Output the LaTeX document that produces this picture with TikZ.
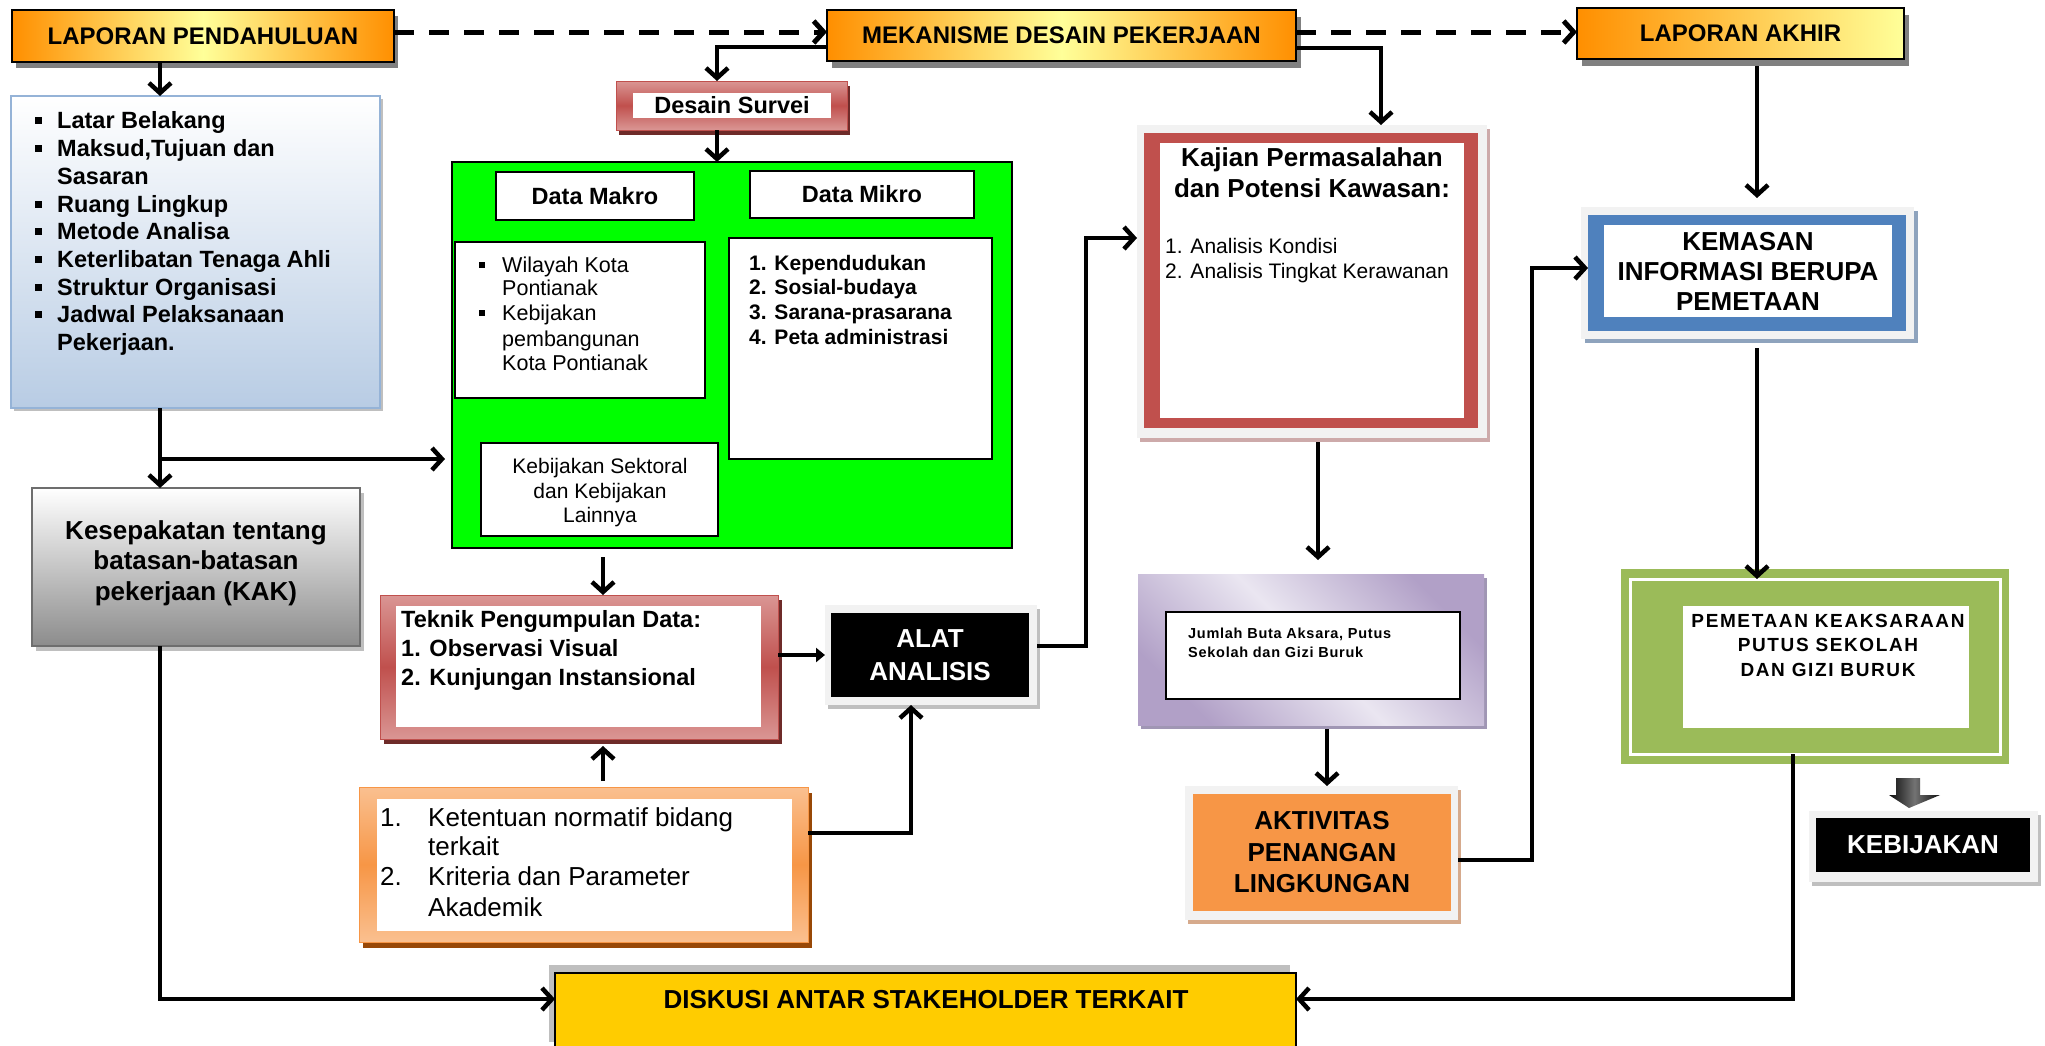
\documentclass[tikz,border=0pt]{standalone}
\usepackage{fontspec}
\setmainfont{Liberation Sans}
\usetikzlibrary{arrows.meta,shadows}

\definecolor{orangeA}{RGB}{255,143,0}
\definecolor{yellowA}{RGB}{255,255,153}
\definecolor{blueBot}{RGB}{184,204,228}
\definecolor{blueEdge}{RGB}{149,179,215}
\definecolor{redA}{RGB}{192,80,77}
\definecolor{redL}{RGB}{218,150,148}
\definecolor{redD}{RGB}{110,43,41}
\definecolor{peach}{RGB}{250,192,144}
\definecolor{orangeB}{RGB}{247,150,70}
\definecolor{brownD}{RGB}{152,72,7}
\definecolor{purpleA}{RGB}{177,160,199}
\definecolor{purpleL}{RGB}{234,230,241}
\definecolor{purpleS}{RGB}{160,150,180}
\definecolor{blueB}{RGB}{79,129,189}
\definecolor{blueS}{RGB}{142,163,189}
\definecolor{greenB}{RGB}{155,187,89}
\definecolor{frameL}{RGB}{242,242,242}
\definecolor{gold}{RGB}{255,204,0}
\definecolor{greenA}{RGB}{0,255,0}
\definecolor{grayK}{RGB}{140,140,140}
\definecolor{grayE}{RGB}{110,110,110}
\definecolor{shadeG}{RGB}{191,191,191}
\definecolor{kajS}{RGB}{205,170,170}
\definecolor{tanS}{RGB}{214,170,140}

\newcommand\fsz[2]{\fontsize{#1}{#2}\selectfont}

\begin{document}
\begin{tikzpicture}[x=1pt,y=-1pt,
  span/.style n args={4}{inner sep=0pt,outer sep=0pt,
    minimum width={#3-#1},minimum height={#4-#2},
    at={({(#1+#3)/2},{(#2+#4)/2})}},
  shadowed/.style n args={3}{drop shadow={shadow xshift=#1pt,shadow yshift=#2pt,fill=#3,opacity=1}},
  link/.style={line width=4.5pt,-{Straight Barb[length=10pt,width=22pt]}},
  dlink/.style={line width=5pt,dash pattern=on 20pt off 15pt,-{Straight Barb[length=10pt,width=22pt]}},
  wire/.style={line width=4.5pt},
  title/.style={font=\fsz{24}{28}\bfseries},
  big/.style={font=\fsz{26}{30.5}\bfseries},
  white box/.style={fill=white,draw=black,line width=2.5pt},
  line text/.style={anchor=base west,inner sep=0pt}]

\useasboundingbox (0,0) rectangle (2045,1045);
\fill[white] (0,0) rectangle (2045,1045);

% ---------- top row: report stages ----------
\node[span={12}{10}{394}{62},left color=orangeA,right color=orangeA,middle color=yellowA,
      draw=black,line width=2pt,shadowed={4}{-6}{gray},title] (lp) {LAPORAN PENDAHULUAN};
\node[span={827}{10}{1296}{61},left color=orangeA,right color=orangeA,middle color=yellowA,
      draw=black,line width=2pt,shadowed={5}{-7}{gray},title] (mek) {MEKANISME DESAIN PEKERJAAN};
\node[span={1577}{8}{1904}{59},left color=orangeA,right color=yellowA,
      draw=black,line width=2pt,shadowed={5}{-7}{gray},title] (la) {LAPORAN AKHIR};

% ---------- left column ----------
\node[span={11}{96}{380}{408},top color=white,bottom color=blueBot,draw=blueEdge,
      line width=1.5pt,shadowed={3}{-3}{shadeG}] (blue) {};
\foreach \yy/\bb/\txt [count=\i] in {120/1/Latar Belakang,148/1/{Maksud,Tujuan dan},176/0/Sasaran,
    204/1/Ruang Lingkup,231/1/Metode Analisa,259/1/Keterlibatan Tenaga Ahli,
    287/1/Struktur Organisasi,314/1/Jadwal Pelaksanaan,342/0/Pekerjaan.}{
  \node[line text,font=\fsz{23.5}{28}\bfseries] (blue\i) at (57,{\yy+8.5}) {\txt};
  \ifnum\bb=1 \fill (35,{\yy-3.5}) rectangle ++(7,7); \fi
}

\node[span={32}{488}{360}{646},top color=white,bottom color=grayK,draw=grayE,
      line width=2pt,shadowed={4}{-5}{shadeG}] (kak) {};
\node[align=center,big,inner sep=0pt] (kaktext) at (196,563)
  {Kesepakatan tentang\\batasan-batasan\\pekerjaan (KAK)};

% ---------- survey design ----------
\node[span={616}{81}{847}{130},top color=redL,bottom color=redL,middle color=redA,
      draw=redA,line width=1pt,shadowed={3}{-5}{redD}] (desain) {};
\node[span={633}{93}{831}{118},fill=white,font=\fsz{23.5}{28}\bfseries] (desaintext) {Desain Survei};

\node[span={452}{162}{1012}{548},fill=greenA,draw=black,line width=2.5pt] (green) {};
\node[span={496}{172}{694}{220},white box,font=\fsz{23.5}{28}\bfseries] (makro) {Data Makro};
\node[span={750}{171}{974}{218},white box,font=\fsz{23.5}{28}\bfseries] (mikro) {Data Mikro};
\node[span={455}{242}{705}{398},white box] (makrolist) {};
\node[span={729}{238}{992}{459},white box] (mikrolist) {};
\node[span={481}{443}{718}{536},white box] (sektoral) {};
\node[align=center,font=\fsz{21}{24.5},inner sep=0pt] (sektoraltext) at (600,493)
  {Kebijakan Sektoral\\dan Kebijakan\\Lainnya};

\foreach \yy/\bb/\txt [count=\i] in {265/1/Wilayah Kota,288/0/Pontianak,313/1/Kebijakan,
    339/0/pembangunan,363/0/Kota Pontianak}{
  \node[line text,font=\fsz{21.5}{25}] (makro\i) at (502,{\yy+7.7}) {\txt};
  \ifnum\bb=1 \fill (479,{\yy-3}) rectangle ++(6,6); \fi
}
\foreach \yy/\txt [count=\i] in {263/1. Kependudukan,287/2. Sosial-budaya,
    312/3. Sarana-prasarana,337/4. Peta administrasi}{
  \node[line text,font=\fsz{21}{25}\bfseries] (mikro\i) at (749,{\yy+7.5}) {\txt};
}

% ---------- data collection ----------
\node[span={380}{595}{778}{739},top color=redL,bottom color=redL,middle color=redA,
      draw=redA,line width=1pt,shadowed={4}{-5}{redD}] (teknik) {};
\node[span={396}{606}{761}{727},fill=white] (teknikin) {};
\foreach \yy/\txt [count=\i] in {619/Teknik Pengumpulan Data:,648/1. Observasi Visual,
    677/2. Kunjungan Instansional}{
  \node[line text,font=\fsz{23.5}{28}\bfseries] (teknik\i) at (401,{\yy+8.5}) {\txt};
}

\node[span={359}{787}{808}{942},top color=peach,bottom color=peach,middle color=orangeB,
      draw=orangeB,line width=1pt,shadowed={4}{-6}{brownD}] (norm) {};
\node[span={377}{799}{792}{931},fill=white] (normin) {};
\foreach \yy/\nn/\txt [count=\i] in {817/1./Ketentuan normatif bidang,846//terkait,
    876/2./Kriteria dan Parameter,907//Akademik}{
  \node[line text,font=\fsz{26}{30}] (normnum\i) at (380,{\yy+9.3}) {\nn};
  \node[line text,font=\fsz{26}{30}] (norm\i) at (428,{\yy+9.3}) {\txt};
}

\node[span={825}{605}{1037}{705},fill=frameL,shadowed={3}{-4}{shadeG}] (alatF) {};
\node[span={831}{613}{1029}{697},fill=black,text=white,align=center,
      font=\fsz{26}{33}\bfseries] (alat) {ALAT\\ANALISIS};

% ---------- analysis ----------
\node[span={1137}{125}{1487}{438},fill=frameL,shadowed={3}{-4}{kajS}] (kajianF) {};
\node[span={1144}{133}{1478}{428},fill=redA] (kajian) {};
\node[span={1160}{143}{1464}{418},fill=white] (kajianin) {};
\node[align=center,font=\fsz{26}{31}\bfseries,inner sep=0pt] (kajiantitle) at (1312,173)
  {Kajian Permasalahan\\dan Potensi Kawasan:};
\foreach \yy/\txt [count=\i] in {246/1. Analisis Kondisi,271/2. Analisis Tingkat Kerawanan}{
  \node[line text,font=\fsz{21}{25}] (kajian\i) at (1165,{\yy+7.5}) {\txt};
}

\node[span={1138}{574}{1484}{725},top color=purpleA,bottom color=purpleA,middle color=purpleL,
      shading angle=-45,shadowed={3}{-4}{purpleS}] (jumlahF) {};
\node[span={1166}{612}{1460}{699},white box] (jumlah) {};
\node[line text,font=\fsz{14.5}{19.5}\bfseries\addfontfeature{LetterSpace=5}] (jumlah1) at (1188,638)
  {Jumlah Buta Aksara, Putus};
\node[line text,font=\fsz{14.5}{19.5}\bfseries\addfontfeature{LetterSpace=5}] (jumlah2) at (1188,657.5)
  {Sekolah dan Gizi Buruk};

\node[span={1185}{786}{1458}{920},fill=frameL,shadowed={3}{-4}{tanS}] (aktivF) {};
\node[span={1193}{794}{1451}{911},fill=orangeB,align=center,font=\fsz{26}{31.5}\bfseries] (aktiv)
  {AKTIVITAS\\PENANGAN\\LINGKUNGAN};

% ---------- final outputs ----------
\node[span={1581}{207}{1914}{339},fill=frameL,shadowed={4}{-4}{blueS}] (kemasanF) {};
\node[span={1588}{215}{1906}{331},fill=blueB] (kemasan) {};
\node[span={1604}{225}{1892}{317},fill=white,align=center,font=\fsz{26}{30}\bfseries] (kemasanin)
  {KEMASAN\\INFORMASI BERUPA\\PEMETAAN};

\node[span={1621}{569}{2009}{764},fill=greenB] (peta) {};
\node[span={1630}{579}{2000}{754},draw=white,line width=3pt] (petaline) {};
\node[span={1683}{606}{1969}{728},fill=white] (petain) {};
\node[align=center,inner sep=0pt,font=\fsz{19}{24.5}\bfseries\addfontfeature{LetterSpace=8.5}]
  (petatext) at (1828,645) {PEMETAAN KEAKSARAAN\\PUTUS SEKOLAH\\DAN GIZI BURUK};

\shade[left color=black!95,right color=black!95,middle color=gray!90!black]
  (1896,778) -- (1920,778) -- (1920,795) -- (1940,795) -- (1909,808) -- (1889,795) -- (1896,795) -- cycle;

\node[span={1809}{811}{2038}{882},fill=frameL,shadowed={3}{-4}{shadeG}] (kebijF) {};
\node[span={1816}{818}{2030}{872},fill=black,text=white,font=\fsz{26}{30}\bfseries] (kebij) {KEBIJAKAN};

\node[span={555}{973}{1296}{1050},fill=gold,draw=black,line width=2.5pt,shadowed={-6}{8}{shadeG}] (diskusi) {};
\node[big,inner sep=0pt] (diskusitext) at (926,1000) {DISKUSI ANTAR STAKEHOLDER TERKAIT};

% ---------- connector guide lines ----------
\coordinate (xa) at (160,0);
\coordinate (ya) at (0,459);
\coordinate (yd) at (0,999);
\coordinate (yt) at (0,32);
\coordinate (yb) at (0,47);
\coordinate (yc) at (0,48);
\coordinate (xb) at (717,0);
\coordinate (xc) at (603,0);
\coordinate (ye) at (0,655);
\coordinate (xf) at (911,0);
\coordinate (yf) at (0,833);
\coordinate (xg) at (1086,0);
\coordinate (yg) at (0,646);
\coordinate (yh) at (0,238);
\coordinate (xh) at (1381,0);
\coordinate (xi) at (1318,0);
\coordinate (xj) at (1327,0);
\coordinate (xk) at (1532,0);
\coordinate (yk) at (0,860);
\coordinate (yl) at (0,268);
\coordinate (xl) at (1757,0);
\coordinate (xm) at (1793,0);

% ---------- connectors ----------
\draw[dlink] (lp.east |- yt) -- (mek.west |- yt);
\draw[dlink] (mek.east |- yt) -- (la.west |- yt);
\draw[link] (lp.south -| xa) -- (blue.north -| xa);
\draw[link] (blue.south -| xa) -- (kak.north -| xa);
\draw[link,shorten >=7pt] (xa |- ya) -- (green.west |- ya);
\draw[link] (kak.south -| xa) -- (xa |- yd) -- (diskusi.west |- yd);
\draw[link] (mek.west |- yb) -| (desain.north -| xb);
\draw[link] (desain.south -| xb) -- (green.north -| xb);
\draw[link,shorten <=9pt] (green.south -| xc) -- (teknik.north -| xc);
\draw[link,shorten <=6pt,shorten >=7pt] (norm.north -| xc) -- (teknik.south -| xc);
\draw[wire,-{Triangle[length=9pt,width=14pt]}] (teknik.east |- ye) -- (alatF.west |- ye);
\draw[link] (norm.east |- yf) -| (alatF.south -| xf);
\draw[link] (alatF.east |- yg) -| (xg |- yh) -- (kajianF.west |- yh);
\draw[link] (mek.east |- yc) -| (kajianF.north -| xh);
\draw[link,shorten <=4pt,shorten >=14pt] (kajianF.south -| xi) -- (jumlahF.north -| xi);
\draw[link,shorten <=4pt] (jumlahF.south -| xj) -- (aktivF.north -| xj);
\draw[link] (aktivF.east |- yk) -| (xk |- yl) -- (kemasan.west |- yl);
\draw[link,shorten <=7pt,shorten >=9pt] (la.south -| xl) -- (kemasanF.north -| xl);
\draw[link,shorten <=9pt] (kemasanF.south -| xl) -- (petaline.north -| xl);
\draw[link] (petaline.south -| xm) -- (xm |- yd) -- (diskusi.east |- yd);

\end{tikzpicture}
\end{document}
